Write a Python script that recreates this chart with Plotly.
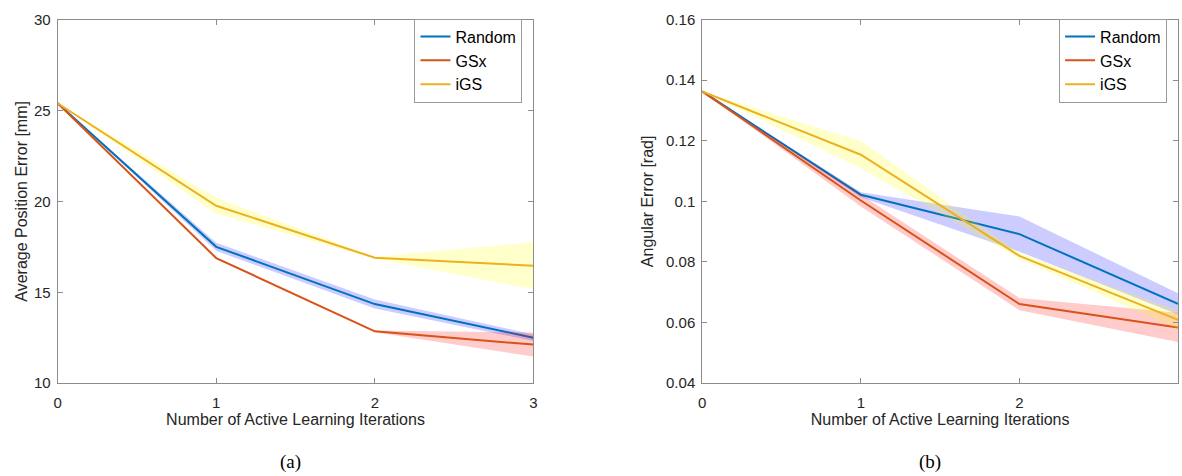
import plotly.graph_objects as go

# ---------------- data ----------------
iterations = [0, 1, 2, 3]
methods = ["Random", "GSx", "iGS"]

# (a) Average position error [mm]
pos_random = [25.4, 17.5, 14.35, 12.5]
pos_random_sd = [0.0, 0.22, 0.25, 0.18]
pos_gsx = [25.4, 16.88, 12.85, 12.12]
pos_gsx_sd = [0.0, 0.03, 0.05, 0.66]
pos_igs = [25.4, 19.76, 16.9, 16.46]
pos_igs_sd = [0.0, 0.44, 0.05, 1.3]

# (b) Angular error [rad]
ang_random = [0.1363, 0.1022, 0.0892, 0.0662]
ang_random_sd = [0.0, 0.0008, 0.0058, 0.0035]
ang_gsx = [0.1363, 0.1003, 0.0661, 0.0584]
ang_gsx_sd = [0.0, 0.002, 0.002, 0.0048]
ang_igs = [0.1363, 0.1154, 0.082, 0.0609]
ang_igs_sd = [0.0, 0.0045, 0.001, 0.003]

pos_yticks = [10, 15, 20, 25, 30]
ang_yticks = [0.04, 0.06, 0.08, 0.10, 0.12, 0.14, 0.16]
ang_yticktext = ["0.04", "0.06", "0.08", "0.1", "0.12", "0.14", "0.16"]
x_ticks = [0, 1, 2, 3]

line_colors = {"Random": "#0072BD", "GSx": "#D95319", "iGS": "#EDB120"}
band_colors = {"Random": "rgba(0,0,255,0.2)", "GSx": "rgba(255,0,0,0.2)", "iGS": "rgba(255,255,0,0.2)"}

FONT = "Liberation Sans, Arial, Helvetica, sans-serif"
TXT = "#262626"
AX = "#8c8c8c"

fig = go.Figure()


def add_series(name, mean, sd, xa, ya, legend):
    upper = [m + s for m, s in zip(mean, sd)]
    lower = [m - s for m, s in zip(mean, sd)]
    fig.add_trace(go.Scatter(
        x=iterations + iterations[::-1], y=upper + lower[::-1],
        fill="toself", fillcolor=band_colors[name], line=dict(width=0),
        mode="lines", showlegend=False, hoverinfo="skip", xaxis=xa, yaxis=ya))
    fig.add_trace(go.Scatter(
        x=iterations, y=mean, mode="lines", name=name,
        line=dict(color=line_colors[name], width=2),
        xaxis=xa, yaxis=ya, legend=legend))


for name, m, s in [("Random", pos_random, pos_random_sd), ("GSx", pos_gsx, pos_gsx_sd), ("iGS", pos_igs, pos_igs_sd)]:
    add_series(name, m, s, "x", "y", "legend")
for name, m, s in [("Random", ang_random, ang_random_sd), ("GSx", ang_gsx, ang_gsx_sd), ("iGS", ang_igs, ang_igs_sd)]:
    add_series(name, m, s, "x2", "y2", "legend2")

W, H = 1182, 476

axis_common = dict(showline=True, linecolor=AX, linewidth=1, mirror="ticks",
                   ticks="inside", ticklen=5, tickcolor=AX, showgrid=False,
                   zeroline=False, tickfont=dict(family=FONT, size=15, color=TXT),
                   title_font=dict(family=FONT, size=16, color=TXT))

legend_common = dict(font=dict(family=FONT, size=16, color="#000000"),
                     bgcolor="white", bordercolor="#9a9a9a", borderwidth=1,
                     xanchor="right", yanchor="top", tracegroupgap=0)

cap_font = dict(family="Liberation Serif, Times New Roman, serif", size=19, color="#000")

fig.update_layout(
    width=W, height=H, margin=dict(l=0, r=0, t=0, b=0),
    paper_bgcolor="white", plot_bgcolor="white",
    xaxis=dict(domain=[54 / W, 533 / W], range=[0, 3], tickvals=x_ticks, ticklabelstandoff=6,
               title=dict(text="Number of Active Learning Iterations", standoff=1), **axis_common),
    yaxis=dict(domain=[1 - 388 / H, 1 - 11 / H], range=[10, 30], tickvals=pos_yticks, ticklabelstandoff=3,
               title=dict(text="Average Position Error [mm]", standoff=2), **axis_common),
    xaxis2=dict(domain=[703 / W, 1.0], range=[0, 3], tickvals=x_ticks, anchor="y2", ticklabelstandoff=6,
                title=dict(text="Number of Active Learning Iterations", standoff=1), **axis_common),
    yaxis2=dict(domain=[1 - 388 / H, 1 - 11 / H], range=[0.04, 0.16], tickvals=ang_yticks,
                ticktext=ang_yticktext, anchor="x2", ticklabelstandoff=3,
                title=dict(text="Angular Error [rad]", standoff=8), **axis_common),
    legend=dict(x=522 / W, y=1 - 10 / H, **legend_common),
    legend2=dict(x=1171 / W, y=1 - 10 / H, **legend_common),
    annotations=[
        dict(text="(a)", x=288 / W, y=1 - 470 / H, xref="paper", yref="paper",
             xanchor="center", yanchor="middle", showarrow=False, font=cap_font),
        dict(text="(b)", x=932 / W, y=1 - 470 / H, xref="paper", yref="paper",
             xanchor="center", yanchor="middle", showarrow=False, font=cap_font),
    ],
)

fig.write_html("out.html")
